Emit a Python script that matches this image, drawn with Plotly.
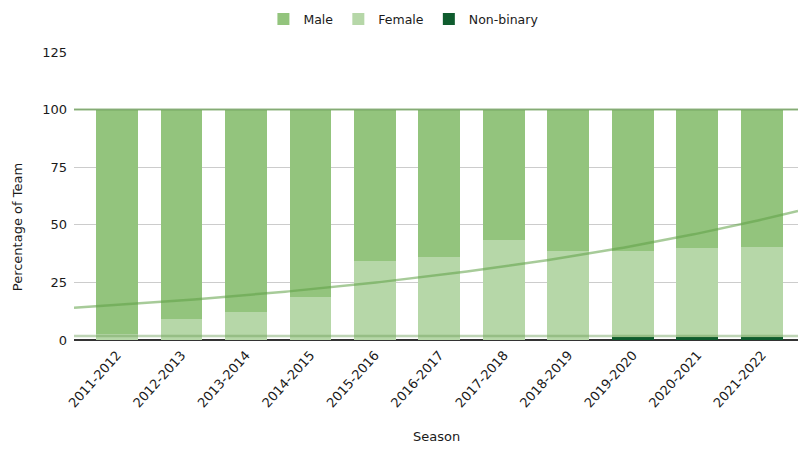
import numpy as np
import plotly.graph_objects as go

# Team composition by season (percent of roster)
seasons = ["2011-2012", "2012-2013", "2013-2014", "2014-2015", "2015-2016",
           "2016-2017", "2017-2018", "2018-2019", "2019-2020", "2020-2021", "2021-2022"]
female = [2.8, 9.1, 12.2, 18.8, 34.2, 36.2, 43.5, 38.8, 37.6, 38.7, 39.2]
non_binary = [0, 0, 0, 0, 0, 0, 0, 0, 1.2, 1.2, 1.2]
male = [100 - f - n for f, n in zip(female, non_binary)]

# Trend level at each season (exponential growth curve) and the flat baseline trend
growth_trend = [15.2, 17.2, 19.4, 22.0, 24.9, 28.2, 31.9, 36.1, 40.8, 46.2, 52.2]
baseline_trend = 1.7

y_ticks = [0, 25, 50, 75, 100, 125]

C_MALE = "#93c47d"
C_FEMALE = "#b6d7a8"
C_NB = "#0f5c2e"
FONT = "DejaVu Sans"
TXT = "#1a1a1a"

x = np.arange(len(seasons))
x_range = [-0.667, len(seasons) - 1 + 0.56]
grid = np.linspace(x_range[0], x_range[1], 200)

fig = go.Figure()
fig.add_trace(go.Bar(x=x, y=non_binary, name="Non-binary", marker_color=C_NB,
                     width=0.65, marker_line_width=0, legendrank=3))
fig.add_trace(go.Bar(x=x, y=female, name="Female", marker_color=C_FEMALE,
                     width=0.65, marker_line_width=0, legendrank=2))
fig.add_trace(go.Bar(x=x, y=male, name="Male", marker_color=C_MALE,
                     width=0.65, marker_line_width=0, legendrank=1))

# Total share trend (flat at the sum of all groups)
totals = np.array(male) + np.array(female) + np.array(non_binary)
tc = np.polyfit(x, totals, 1)
fig.add_trace(go.Scatter(x=grid, y=np.polyval(tc, grid), mode="lines",
                         line=dict(color="rgba(110,160,90,0.75)", width=2),
                         showlegend=False, hoverinfo="skip"))

# Exponential growth trend extended across the full axis
gc = np.polyfit(x, np.log(growth_trend), 1)
fig.add_trace(go.Scatter(x=grid, y=np.exp(np.polyval(gc, grid)), mode="lines",
                         line=dict(color="rgba(95,160,70,0.55)", width=2.5),
                         showlegend=False, hoverinfo="skip"))

# Flat baseline trend near zero
fig.add_trace(go.Scatter(x=x_range, y=[baseline_trend, baseline_trend], mode="lines",
                         line=dict(color="rgba(110,160,90,0.45)", width=2.5),
                         showlegend=False, hoverinfo="skip"))

fig.update_layout(
    width=798, height=449,
    barmode="stack",
    plot_bgcolor="white", paper_bgcolor="white",
    margin=dict(l=74, r=0, t=52, b=109),
    font=dict(family=FONT, size=13, color=TXT),
    legend=dict(orientation="h", x=0.455, xanchor="center", y=0.99, yanchor="top",
                yref="container", font=dict(size=12.5, color=TXT),
                traceorder="normal", itemwidth=30),
    xaxis=dict(range=x_range, tickmode="array", tickvals=x, ticktext=seasons,
               tickangle=-48, showgrid=False, zeroline=False, showline=False,
               ticks="", ticklabelstandoff=4, tickfont=dict(size=13, color=TXT)),
    yaxis=dict(range=[0, 125], tickvals=y_ticks, showgrid=True, gridcolor="#cccccc",
               gridwidth=1, zeroline=True, zerolinecolor="#333333", zerolinewidth=1.5,
               ticks="", ticklabelstandoff=6, tickfont=dict(size=13, color=TXT)),
    annotations=[
        dict(text="Percentage of Team", xref="paper", yref="paper", x=-0.078, y=0.39,
             textangle=-90, showarrow=False, font=dict(size=13, color=TXT),
             xanchor="center", yanchor="middle"),
        dict(text="Season", xref="paper", yref="paper", x=0.5, y=-0.335,
             showarrow=False, font=dict(size=13, color=TXT),
             xanchor="center", yanchor="middle"),
    ],
)

fig.write_html("out.html")
